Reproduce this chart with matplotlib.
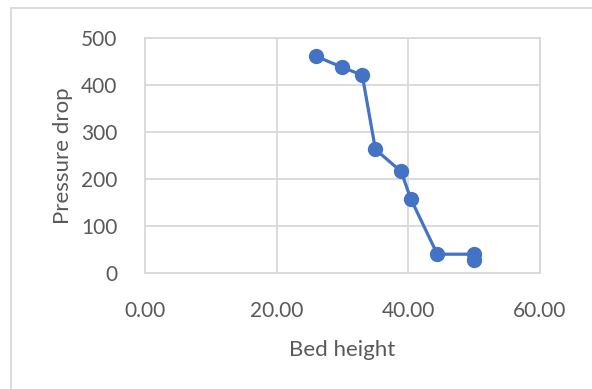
import matplotlib.pyplot as plt
from matplotlib.patches import Rectangle

bed_height = [26.0, 29.9, 33.0, 35.0, 38.9, 40.4, 44.4, 50.0, 50.0]
pressure_drop = [461, 438, 421, 263, 216, 157, 40, 40, 28]
x_ticks = [0, 20, 40, 60]
y_ticks = [0, 100, 200, 300, 400, 500]

plt.rcParams['font.family'] = ['Lato', 'DejaVu Sans']
grey = '#595959'
grid = '#d9d9d9'

fig = plt.figure(figsize=(5.92, 3.89), dpi=100)
ax = fig.add_axes([145 / 592, 1 - 273 / 389, 395 / 592, 235 / 389])

# chart frame
fig.patches.append(Rectangle((11 / 592, -0.1), 1.2, 1 - 8 / 389 + 0.1,
                             transform=fig.transFigure, fill=False,
                             edgecolor=grid, linewidth=1.3))

ax.plot(bed_height, pressure_drop, '-o', color='#4472C4',
        linewidth=2.3, markersize=10, zorder=3, clip_on=False)

ax.set_xlim(0, 60)
ax.set_ylim(0, 500)
ax.set_xticks(x_ticks)
ax.set_xticklabels([f'{v:.2f}' for v in x_ticks])
ax.set_yticks(y_ticks)
ax.grid(True, color=grid, linewidth=1.3)
ax.set_axisbelow(True)
for s in ax.spines.values():
    s.set_color(grid)
    s.set_linewidth(1.3)
ax.tick_params(axis='y', length=0, labelsize=15, colors=grey, pad=20)
ax.tick_params(axis='x', length=0, labelsize=15, colors=grey, pad=20)

ax.set_xlabel('Bed height', fontsize=16, color=grey, labelpad=14)
ax.set_ylabel('Pressure drop', fontsize=16, color=grey, labelpad=6)

fig.savefig('out.png', dpi=100)
